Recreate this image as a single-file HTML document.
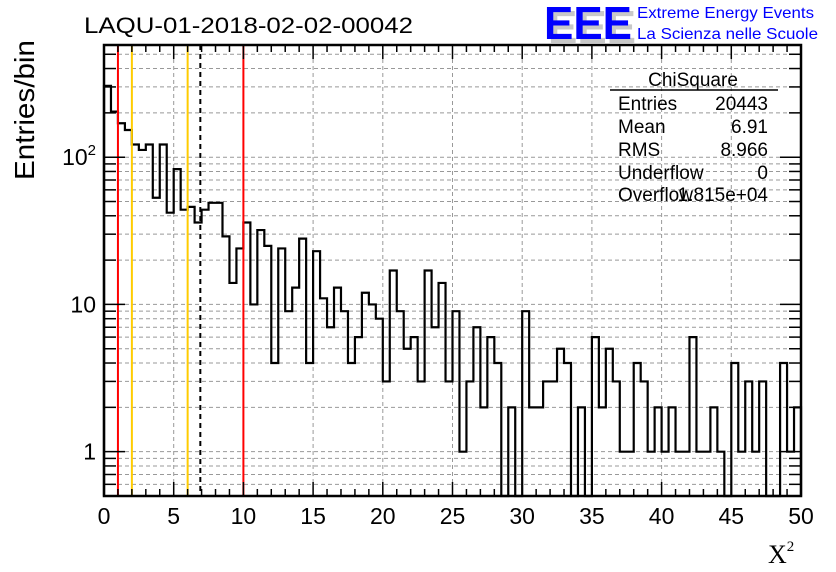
<!DOCTYPE html>
<html><head><meta charset="utf-8"><style>
body{margin:0;background:#fff;}
svg{display:block;font-family:"Liberation Sans",sans-serif;}
</style></head><body>
<svg id="c" width="836" height="572" viewBox="0 0 836 572">
<rect x="0" y="0" width="836" height="572" fill="#fff"/>
<g id="grid"></g>
<g id="marks"></g>
<g id="vlines"></g>
<g id="axes"></g>
<text x="84" y="33" font-size="22" textLength="329" lengthAdjust="spacingAndGlyphs">LAQU-01-2018-02-02-00042</text>
<text transform="translate(34,180) rotate(-90)" font-size="28" textLength="140" lengthAdjust="spacingAndGlyphs">Entries/bin</text>
<text x="768" y="563" font-size="26" font-family="Liberation Serif,serif">X<tspan font-size="15" dy="-12">2</tspan></text>
<g>
<text x="548" y="43" font-size="46" font-weight="bold" fill="#c8c8c8" textLength="88" lengthAdjust="spacingAndGlyphs">EEE</text>
<text x="544" y="39" font-size="46" font-weight="bold" fill="#0000ff" textLength="88" lengthAdjust="spacingAndGlyphs">EEE</text>
<text x="637" y="18" font-size="16" fill="#0000ff" textLength="177" lengthAdjust="spacingAndGlyphs">Extreme Energy Events</text>
<text x="637" y="39" font-size="16" fill="#0000ff" textLength="181" lengthAdjust="spacingAndGlyphs">La Scienza nelle Scuole</text>
</g>
<g font-size="19">
<text x="693" y="86" text-anchor="middle">ChiSquare</text>
<line x1="610" y1="90" x2="778" y2="90" stroke="#000" stroke-width="1.5"/>
<text x="618" y="110">Entries</text><text x="768" y="110" text-anchor="end">20443</text>
<text x="618" y="133">Mean</text><text x="768" y="133" text-anchor="end">6.91</text>
<text x="618" y="156">RMS</text><text x="768" y="156" text-anchor="end">8.966</text>
<text x="618" y="179">Underflow</text><text x="768" y="179" text-anchor="end">0</text>
<text x="618" y="201">Overflow</text><text x="768" y="201" text-anchor="end">1.815e+04</text>
</g>
</svg>
<script>
const counts=[305,204,170,153,122,112,122,53,122,42,83,44,46,36,44,49,49,29,14,24,
36,10,32,25,4,24,9,13,28,4,23,11,7,13,9,4,6,12,10,8,
3,17,9,5,6,3,17,7,14,3,9,1,3,7,2,6,4,0,2,0,
9,2,2,3,3,5,4,0,2,0,6,2,5,3,1,1,4,3,1,2,
1,2,1,1,6,1,1,2,1,0,4,1,3,1,3,0,0,4,1,2];
const xTicks=[0,5,10,15,20,25,30,35,40,45,50];
const refLines=[1,10];
const yellowLines=[2,6];
const meanValue=[6.91];
const L=104,R=801,T=45,B=496,xmin=0,xmax=50,ymin=0.5,ymax=578;
const NS='http://www.w3.org/2000/svg';
function sx(v){return L+(v-xmin)/(xmax-xmin)*(R-L);}
function sy(v){if(v<=0)return B;const y=B-(Math.log10(v)-Math.log10(ymin))/(Math.log10(ymax)-Math.log10(ymin))*(B-T);return Math.max(T,Math.min(B,y));}
function mk(t,a,p){const e=document.createElementNS(NS,t);for(const k in a)e.setAttribute(k,a[k]);p.appendChild(e);return e;}
const grid=document.getElementById('grid'),axes=document.getElementById('axes'),marks=document.getElementById('marks'),vl=document.getElementById('vlines');
const ytv=[];
for(const d of [0.1,1,10,100])for(let m=1;m<=9;m++){const v=d*m;if(v>=ymin&&v<=ymax)ytv.push(v);}
ytv.forEach(v=>{const y=sy(v);
 const g=mk('line',{x1:L,x2:R,y1:y,y2:y,stroke:'#999','stroke-dasharray':'4,3','stroke-width':1},grid);
 
 const major=[1,10,100].includes(Math.round(v*1000)/1000);
 const len=major?21:12;
 mk('line',{x1:L,x2:L+len,y1:y,y2:y,stroke:'#000','stroke-width':1.5},axes);
 mk('line',{x1:R,x2:R-len,y1:y,y2:y,stroke:'#000','stroke-width':1.5},axes);
});
[[1,'1'],[10,'10']].forEach(([v,s])=>{const t=mk('text',{x:96,y:sy(v)+8,'font-size':23,'text-anchor':'end'},axes);t.textContent=s;
 });
const t100=mk('text',{x:96,y:sy(100)+8,'font-size':23,'text-anchor':'end'},axes);

t100.innerHTML='10<tspan font-size="15" dy="-10">2</tspan>';
for(let v=0;v<=50;v++){const x=sx(v);const major=v%5===0;const len=major?14:7;
 mk('line',{x1:x,x2:x,y1:B,y2:B-len,stroke:'#000','stroke-width':1.5},axes);
 mk('line',{x1:x,x2:x,y1:T,y2:T+len,stroke:'#000','stroke-width':1.5},axes);}
xTicks.forEach(v=>{const x=sx(v);
 if(v>0&&v<50){const g=mk('line',{x1:x,x2:x,y1:T,y2:B,stroke:'#999','stroke-dasharray':'4,3','stroke-width':1},grid);
 }
 const t=mk('text',{x:x,y:524,'font-size':23,'text-anchor':'middle'},axes);t.textContent=v;
 });
const bw=(xmax-xmin)/counts.length;
let d='M'+sx(0)+','+B;
counts.forEach((c,i)=>{const y=sy(c);d+=' L'+sx(i*bw)+','+y+' L'+sx((i+1)*bw)+','+y;});
d+=' L'+sx(xmax)+','+B;
const h=mk('path',{d:d,fill:'none',stroke:'#000','stroke-width':2.2},marks);

refLines.forEach(v=>{const l=mk('line',{x1:sx(v),x2:sx(v),y1:T,y2:B,stroke:'#f00','stroke-width':2},vl);
 });
yellowLines.forEach(v=>{const l=mk('line',{x1:sx(v),x2:sx(v),y1:T,y2:B,stroke:'#fc0','stroke-width':2},vl);
 });
meanValue.forEach(v=>{const l=mk('line',{x1:sx(v),x2:sx(v),y1:T,y2:B,stroke:'#000','stroke-width':2,'stroke-dasharray':'5,4'},vl);
 });
const fr=mk('rect',{x:L,y:T,width:R-L,height:B-T,fill:'none',stroke:'#000','stroke-width':2.5},axes);

</script>
</body></html>
